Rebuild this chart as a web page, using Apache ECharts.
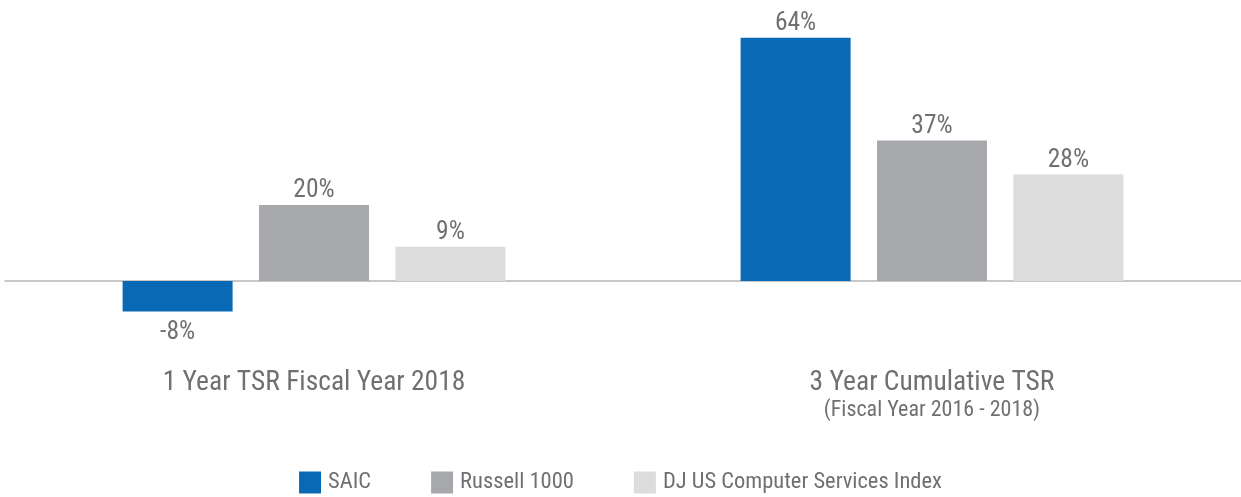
<!DOCTYPE html>
<html>
<head>
<meta charset="utf-8">
<script src="https://cdn.jsdelivr.net/npm/echarts@6/dist/echarts.min.js"></script>
<style>
html,body{margin:0;padding:0;background:#fff;}
#c{width:1241px;height:497px;}
</style>
</head>
<body>
<div id="c"></div>
<script>
var categories = ['1 Year TSR Fiscal Year 2018', '3 Year Cumulative TSR\n(Fiscal Year 2016 - 2018)'];
var seriesNames = ['SAIC', 'Russell 1000', 'DJ US Computer Services Index'];
var saic = [-8, 64];
var russell = [20, 37];
var djus = [9, 28];

var FONT = '"Liberation Sans Narrow", "Arial Narrow", "Roboto Condensed", "Liberation Sans", sans-serif';
var TXT = '#6f7072';
var colors = ['#0a69b4', '#a7a8ab', '#dcdcdc'];
var values = [saic, russell, djus];

var chart = echarts.init(document.getElementById('c'), null, {renderer: 'canvas'});
chart.setOption({
  animation: false,
  backgroundColor: '#ffffff',
  textStyle: {fontFamily: FONT},
  grid: {left: 5, width: 1240, top: 15, height: 304},
  legend: {
    bottom: -2,
    left: 'center',
    itemWidth: 22,
    itemHeight: 22,
    itemGap: 60,
    icon: 'rect',
    textStyle: {fontFamily: FONT, fontSize: 22.5, color: TXT, padding: [0, 0, 0, 2]},
    data: seriesNames
  },
  xAxis: {
    type: 'category',
    data: categories,
    axisLine: {onZero: true, lineStyle: {color: '#b5b5b5', width: 1.5}},
    axisTick: {show: false},
    axisLabel: {
      margin: 49,
      interval: 0,
      formatter: function (v) {
        var parts = v.split('\n');
        var s = '{a|' + parts[0] + '}';
        for (var i = 1; i < parts.length; i++) s += '\n{b|' + parts[i] + '}';
        return s;
      },
      rich: {
        a: {fontFamily: FONT, fontSize: 27.5, color: TXT, lineHeight: 30},
        b: {fontFamily: FONT, fontSize: 22, color: TXT, lineHeight: 24}
      }
    }
  },
  yAxis: {
    type: 'value',
    min: -10,
    max: 70,
    show: false,
    splitLine: {show: false}
  },
  series: seriesNames.map(function (n, i) {
    return {
      name: n,
      type: 'bar',
      data: values[i].map(function (v) {
        return v < 0 ? {value: v, label: {position: 'bottom', distance: 8}} : v;
      }),
      barWidth: 110,
      barGap: '24%',
      itemStyle: {color: colors[i]},
      label: {
        show: true,
        position: 'top',
        distance: 1,
        formatter: function (p) { return p.value + '%'; },
        fontFamily: FONT,
        fontSize: 25.5,
        color: TXT
      }
    };
  })
});
</script>
</body>
</html>
